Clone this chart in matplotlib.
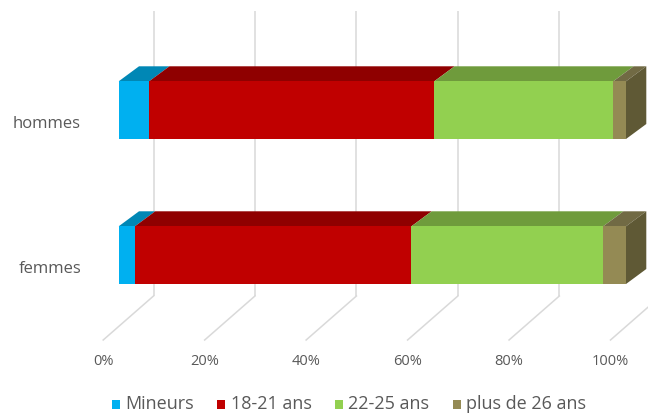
import matplotlib
matplotlib.use("Agg")
import matplotlib.pyplot as plt
from matplotlib.patches import Polygon, Patch, Rectangle
from matplotlib.legend_handler import HandlerPatch
import numpy as np

# ---------------- data ----------------
categories = ["femmes", "hommes"]
series_names = ["Mineurs", "18-21 ans", "22-25 ans", "plus de 26 ans"]
mineurs = [3.2, 6.0]
ans_18_21 = [54.5, 56.2]
ans_22_25 = [37.8, 35.3]
plus_26 = [4.5, 2.5]
tick_values = [0, 20, 40, 60, 80, 100]
tick_labels = ["0%", "20%", "40%", "60%", "80%", "100%"]

# ---------------- style ----------------
front_colors = ["#00B0F0", "#C00000", "#92D050", "#948A54"]
top_colors = ["#0087B5", "#8F0000", "#6F9B3C", "#716A44"]
side_colors = ["#006B91", "#700000", "#567A2F", "#5F5935"]
grid_color = "#D9D9D9"
text_color = "#595959"
FONT = "Open Sans"

W, H = 648, 414
fig = plt.figure(figsize=(W / 100, H / 100), dpi=100)
ax = fig.add_axes([0, 0, 1, 1])

px_x = 5.073      # pixels per percent
x0_px = 118.7     # pixel of 0 % on front face
px_y = 145.0      # pixels per category step
y0_px = 256.15    # pixel row of first category centre
ax.set_xlim(-x0_px / px_x, (W - x0_px) / px_x)
ax.set_ylim((y0_px - H) / px_y, y0_px / px_y)
ax.axis("off")

def dx(p):
    return p / px_x

def dy(p):
    return p / px_y

bar_h = 0.398
depth_x, depth_y = dx(20.3), dy(15)

# back wall gridlines + floor lines
wall_off = dx(34.8)
wall_bot = (y0_px - 297) / px_y
wall_top = (y0_px - 12) / px_y
floor_off = dx(-15.5)
floor_y = (y0_px - 341) / px_y
for t in tick_values:
    ax.plot([t + wall_off, t + wall_off], [wall_bot, wall_top], color=grid_color,
            lw=1.1, zorder=1, solid_capstyle="butt")
    ax.plot([t + floor_off, t + wall_off], [floor_y, wall_bot], color=grid_color,
            lw=1.1, zorder=1)

for t, lab in zip(tick_values, tick_labels):
    ax.text(t + floor_off, (y0_px - 362) / px_y, lab, ha="center", va="center",
            fontsize=10.5, color=text_color, family=FONT)

# bars
data = np.array([mineurs, ans_18_21, ans_22_25, plus_26])
ypos = np.arange(len(categories))
lefts = np.zeros(len(categories))
for s in range(len(series_names)):
    vals = data[s]
    ax.barh(ypos, vals, left=lefts, height=bar_h, color=front_colors[s],
            edgecolor="none", zorder=3)
    for i in range(len(categories)):
        l, r = lefts[i], lefts[i] + vals[i]
        top = ypos[i] + bar_h / 2
        ax.add_patch(Polygon([[l, top], [r, top], [r + depth_x, top + depth_y],
                              [l + depth_x, top + depth_y]], closed=True,
                             facecolor=top_colors[s], edgecolor="none", zorder=2.5))
    lefts = lefts + vals

for i in range(len(categories)):
    r = lefts[i]
    top = ypos[i] + bar_h / 2
    bot = ypos[i] - bar_h / 2
    ax.add_patch(Polygon([[r, bot], [r, top], [r + depth_x, top + depth_y],
                          [r + depth_x, bot + depth_y]], closed=True,
                         facecolor=side_colors[-1], edgecolor="none", zorder=2.5))

# category labels
for i, c in enumerate(categories):
    ax.text(dx(81 - x0_px), ypos[i] - 0.092, c, ha="right", va="center",
            fontsize=12, color=text_color, family=FONT)

# legend (square handles lowered slightly so they sit on the text baseline)
def low_square(legend, orig_handle, xdescent, ydescent, width, height, fontsize):
    return Rectangle((-xdescent, -ydescent - 2.2), width, height)

handles = [Patch(facecolor=c, edgecolor="none") for c in front_colors]
leg = fig.legend(handles, series_names, loc="center", ncol=4,
                 bbox_to_anchor=(349 / W, 1 - 404 / H), frameon=False,
                 handlelength=0.44, handleheight=0.44, handletextpad=0.3,
                 columnspacing=1.3, borderpad=0,
                 handler_map={Patch: HandlerPatch(patch_func=low_square)},
                 prop={"family": FONT, "size": 13})
for t in leg.get_texts():
    t.set_color(text_color)

fig.savefig("out.png", dpi=100)
